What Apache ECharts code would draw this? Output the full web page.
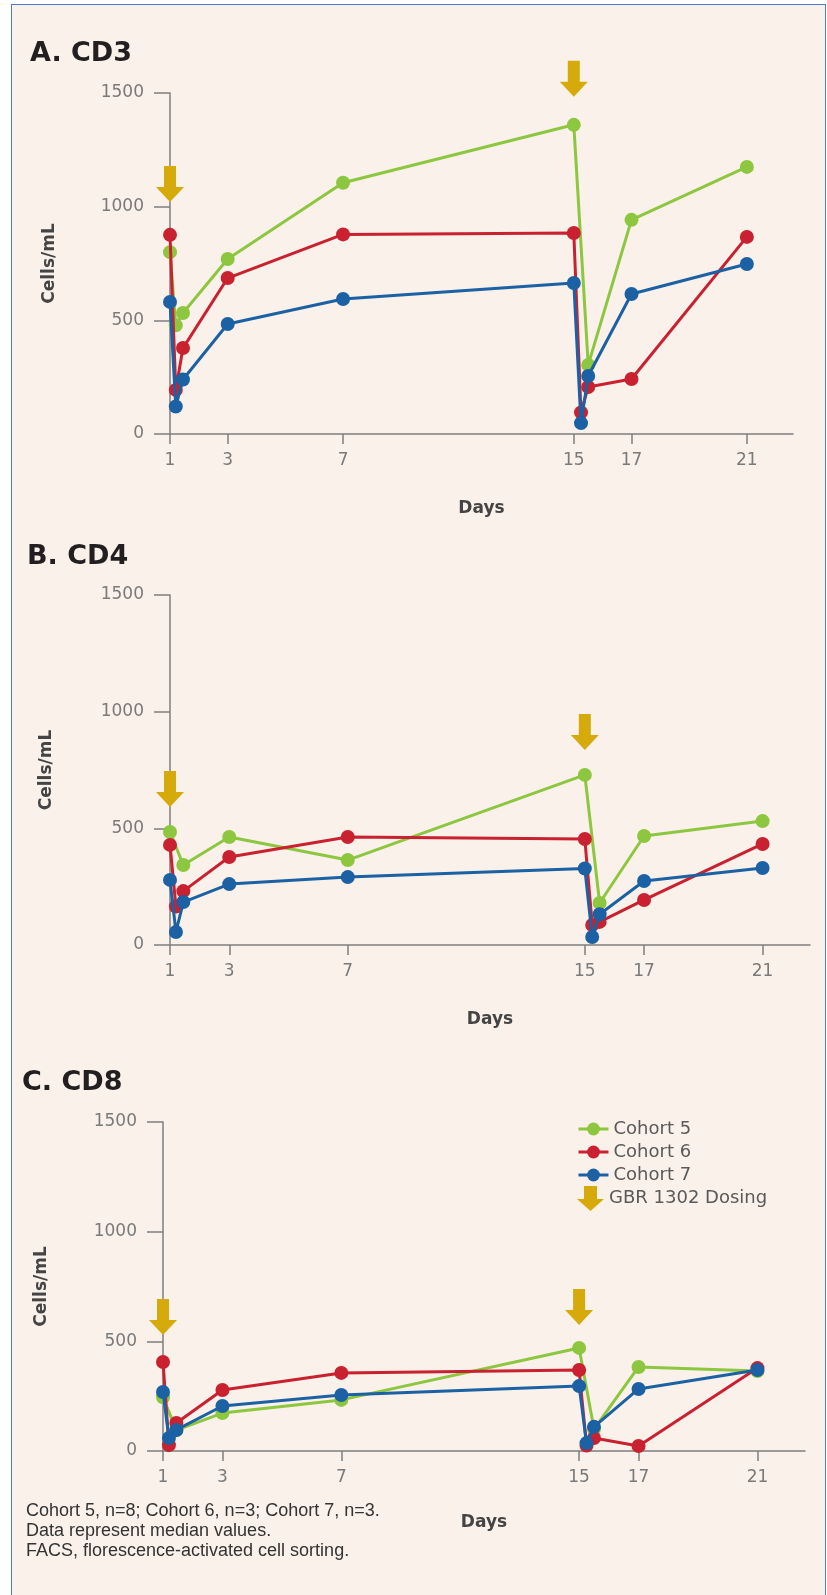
<!DOCTYPE html>
<html><head><meta charset="utf-8">
<script src="https://cdn.jsdelivr.net/npm/echarts@6/dist/echarts.min.js"></script>
<style>
html,body{margin:0;padding:0;background:#fff;width:827px;height:1595px;overflow:hidden;}
#frame{position:absolute;left:11px;top:4px;width:815px;height:1600px;box-sizing:border-box;background:#F9F1EA;border-left:1.5px solid #4A7CC9;border-top:1.5px solid #4A7CC9;border-right:1.5px solid #4A7CC9;}
#chart{position:absolute;left:0;top:0;width:827px;height:1595px;}
</style></head>
<body><div id="frame"></div><div id="chart"></div>
<script>
// ---- data ----
const dayPoints = [1, 1.2, 1.45, 3, 7, 15, 15.25, 15.5, 17, 21];
const xTickDays = [1, 3, 7, 15, 17, 21];
const seriesNames = ['Cohort 5', 'Cohort 6', 'Cohort 7'];
const dosingName = 'GBR 1302 Dosing';
const dosingDays = [1, 15];
const panelTitles = ['A. CD3', 'B. CD4', 'C. CD8'];

const cd3Cohort5 = [800, 478, 532, 770, 1105, 1360, null, 304, 942, 1175];
const cd3Cohort6 = [876, 194, 378, 686, 878, 884, 95, 207, 242, 867];
const cd3Cohort7 = [581, 121, 240, 484, 594, 664, 48, 255, 616, 748];

const cd4Cohort5 = [484, null, 343, 463, 364, 729, null, 180, 467, 531];
const cd4Cohort6 = [429, 165, 231, 377, 463, 454, 86, 99, 193, 433];
const cd4Cohort7 = [279, 56, 184, 261, 291, 328, 34, 132, 274, 330];

const cd8Cohort5 = [245, null, 95, 173, 233, 470, null, 100, 383, 365];
const cd8Cohort6 = [406, 27, 128, 278, 356, 369, 25, 59, 23, 378];
const cd8Cohort7 = [269, 59, 96, 205, 255, 296, 36, 110, 283, 369];

const footnotes = [
  'Cohort 5, n=8; Cohort 6, n=3; Cohort 7, n=3.',
  'Data represent median values.',
  'FACS, florescence-activated cell sorting.'
];

// ---- layout / style ----
const colors = ['#8DC63F', '#C92130', '#1B61A3'];
const arrowColor = '#D6AA0A';
const axisColor = '#7f7f7f';
const arrowPath = 'path://M8,0 L20,0 L20,21 L28,21 L14,36 L0,21 L8,21 Z';
const legendArrowPath = 'path://M7,0 L20,0 L20,13 L27,13 L13.5,25 L0,13 L7,13 Z';

const panels = [
  {title: panelTitles[0], tx: 30, ty: 54, grid: {left: 170, top: 93, width: 623, height: 341},
   values: [cd3Cohort5, cd3Cohort6, cd3Cohort7], arrowLevels: [1020, 1483], yNameGap: 112, xNameGap: 66},
  {title: panelTitles[1], tx: 27, ty: 557, grid: {left: 170, top: 595, width: 640, height: 350},
   values: [cd4Cohort5, cd4Cohort6, cd4Cohort7], arrowLevels: [591, 836], yNameGap: 115, xNameGap: 66},
  {title: panelTitles[2], tx: 22, ty: 1083, grid: {left: 163, top: 1122, width: 642, height: 329},
   values: [cd8Cohort5, cd8Cohort6, cd8Cohort7], arrowLevels: [529, 575], yNameGap: 113, xNameGap: 63}
];

const grids = [], xAxes = [], yAxes = [], series = [], graphics = [];
const nameStyle = {fontFamily: 'DejaVu Sans', fontWeight: 'bold', fontSize: 17, color: '#444444'};
const labelStyle = {fontFamily: 'DejaVu Sans', fontSize: 17, color: '#7a7a7a'};

panels.forEach((p, i) => {
  grids.push(Object.assign({containLabel: false}, p.grid));
  xAxes.push({
    gridIndex: i, type: 'value', min: 1, max: 22.6,
    name: 'Days', nameLocation: 'middle', nameGap: p.xNameGap, nameTextStyle: nameStyle,
    axisLine: {show: true, onZero: false, lineStyle: {color: axisColor, width: 1.5}},
    axisTick: {show: true, customValues: xTickDays, length: 10, lineStyle: {color: axisColor, width: 1.5}},
    axisLabel: Object.assign({customValues: xTickDays, margin: 18, formatter: v => String(v)}, labelStyle),
    splitLine: {show: false}
  });
  yAxes.push({
    gridIndex: i, type: 'value', min: 0, max: 1500, interval: 500,
    name: 'Cells/mL', nameLocation: 'middle', nameRotate: 90, nameGap: p.yNameGap, nameTextStyle: nameStyle,
    axisLine: {show: true, lineStyle: {color: axisColor, width: 1.5}},
    axisTick: {show: true, length: 16, lineStyle: {color: axisColor, width: 1.5}},
    axisLabel: Object.assign({margin: 26, formatter: v => String(v)}, labelStyle),
    splitLine: {show: false}
  });
  p.values.forEach((vals, k) => {
    series.push({
      name: seriesNames[k], type: 'line', xAxisIndex: i, yAxisIndex: i,
      data: dayPoints.map((d, j) => [d, vals[j]]).filter(pt => pt[1] != null),
      symbol: 'circle', symbolSize: 14,
      itemStyle: {color: colors[k]},
      lineStyle: {color: colors[k], width: 3},
      z: 2 + k
    });
  });
  series.push({
    name: dosingName, type: 'scatter', xAxisIndex: i, yAxisIndex: i,
    data: dosingDays.map((d, j) => [d, p.arrowLevels[j]]),
    symbol: arrowPath, symbolSize: [28, 36], symbolOffset: [0, '-50%'],
    itemStyle: {color: arrowColor, opacity: 1}, z: 6, silent: true
  });
  graphics.push({type: 'text', x: p.tx, y: p.ty,
    style: {text: p.title, font: 'bold 27px "DejaVu Sans"', fill: '#231f20', verticalAlign: 'middle'}});
});

footnotes.forEach((t, j) => {
  graphics.push({type: 'text', x: 26, y: 1511 + j * 20,
    style: {text: t, font: '18px "Liberation Sans"', fill: '#333333', verticalAlign: 'middle'}});
});

const chart = echarts.init(document.getElementById('chart'));
chart.setOption({
  backgroundColor: 'transparent',
  animation: false,
  grid: grids,
  xAxis: xAxes,
  yAxis: yAxes,
  series: series,
  legend: [
    {data: seriesNames, orient: 'vertical', left: 577, top: 1120, padding: 0, itemWidth: 30, itemHeight: 16, itemGap: 5,
     lineStyle: {width: 3},
     textStyle: {fontFamily: 'DejaVu Sans', fontSize: 18, color: '#5a5a5a', lineHeight: 17}},
    {data: [{name: dosingName, icon: legendArrowPath}], orient: 'vertical', left: 577, top: 1186, padding: 0,
     itemWidth: 27, itemHeight: 25, textStyle: {fontFamily: 'DejaVu Sans', fontSize: 18, color: '#5a5a5a'}}
  ],
  graphic: graphics
});
</script></body></html>
